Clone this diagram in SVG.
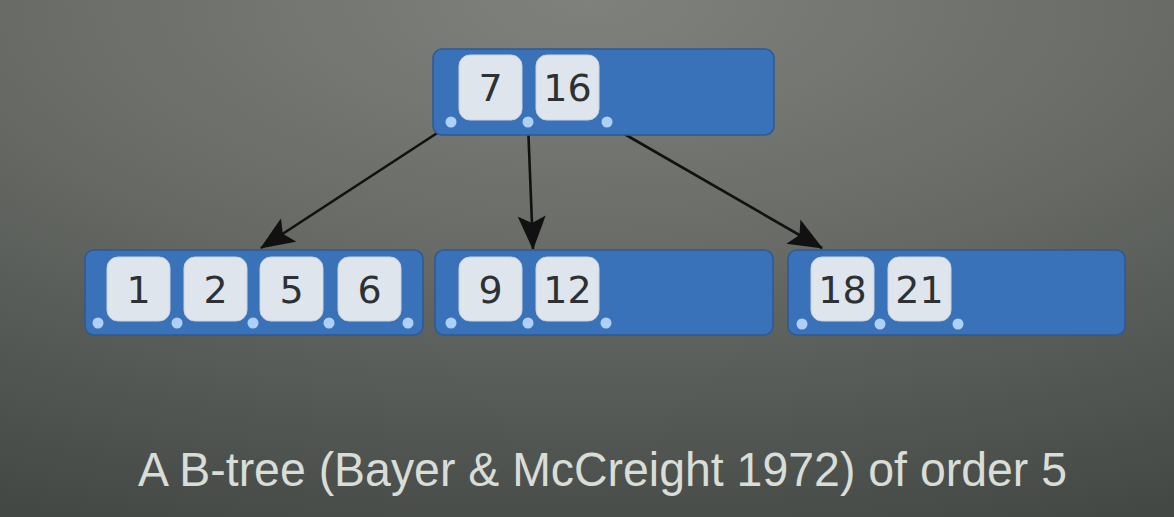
<svg xmlns="http://www.w3.org/2000/svg" width="1174" height="517" viewBox="0 0 1174 517">
  <defs>
    <radialGradient id="bg" cx="0.5" cy="0" r="1.1" fx="0.5" fy="0">
      <stop offset="0" stop-color="#7e817c"/>
      <stop offset="0.45" stop-color="#686b66"/>
      <stop offset="1" stop-color="#434845"/>
    </radialGradient>
    <marker id="arrow" viewBox="0 0 34 28" refX="33" refY="14" markerWidth="34" markerHeight="28" markerUnits="userSpaceOnUse" orient="auto">
      <path d="M0,0 L34,14 L0,28 L7,14 z" fill="#111"/>
    </marker>
    <style>
      .node { fill: #3a72ba; stroke: #2c5a94; stroke-width: 1.5; }
      .key { fill: #dfe5ec; stroke: #c9d3de; stroke-width: 1; }
      .num { font-family: "DejaVu Sans", sans-serif; font-size: 38px; fill: #2e3133; text-anchor: middle; }
      .dot { fill: #aed0f7; }
      .edge { stroke: #111; stroke-width: 2.6; fill: none; marker-end: url(#arrow); }
      .caption { font-family: "Liberation Sans", Arial, sans-serif; font-size: 49px; fill: #d9ddd8; }
    </style>
  </defs>
  <rect x="0" y="0" width="1174" height="517" fill="url(#bg)"/>

  <g id="connectors">
    <line class="edge" x1="451" y1="124" x2="261" y2="248"/>
    <line class="edge" x1="528" y1="124" x2="533" y2="249"/>
    <line class="edge" x1="607" y1="124" x2="822" y2="248"/>
  </g>

  <g id="root">
    <rect class="node" x="433" y="49" width="341" height="86" rx="9"/>
    <rect class="key" x="459" y="55" width="63" height="65" rx="11"/>
    <text class="num" x="490.5" y="101">7</text>
    <rect class="key" x="536" y="55" width="63" height="65" rx="11"/>
    <text class="num" x="567.5" y="101">16</text>
    <circle class="dot" cx="451" cy="122" r="5.5"/>
    <circle class="dot" cx="528" cy="122" r="5.5"/>
    <circle class="dot" cx="607" cy="122" r="5.5"/>
  </g>

  <g id="left">
    <rect class="node" x="85" y="250" width="338" height="85" rx="9"/>
    <rect class="key" x="107" y="257" width="63" height="64" rx="11"/>
    <text class="num" x="138.5" y="303">1</text>
    <rect class="key" x="184" y="257" width="63" height="64" rx="11"/>
    <text class="num" x="215.5" y="303">2</text>
    <rect class="key" x="260" y="257" width="63" height="64" rx="11"/>
    <text class="num" x="291.5" y="303">5</text>
    <rect class="key" x="338" y="257" width="63" height="64" rx="11"/>
    <text class="num" x="369.5" y="303">6</text>
    <circle class="dot" cx="98" cy="323" r="5.5"/>
    <circle class="dot" cx="177" cy="323" r="5.5"/>
    <circle class="dot" cx="253" cy="323" r="5.5"/>
    <circle class="dot" cx="329" cy="323" r="5.5"/>
    <circle class="dot" cx="408" cy="323" r="5.5"/>
  </g>

  <g id="middle">
    <rect class="node" x="435" y="250" width="338" height="85" rx="9"/>
    <rect class="key" x="459" y="257" width="63" height="64" rx="11"/>
    <text class="num" x="490.5" y="303">9</text>
    <rect class="key" x="536" y="257" width="63" height="64" rx="11"/>
    <text class="num" x="567.5" y="303">12</text>
    <circle class="dot" cx="451" cy="323" r="5.5"/>
    <circle class="dot" cx="528" cy="323" r="5.5"/>
    <circle class="dot" cx="606" cy="323" r="5.5"/>
  </g>

  <g id="right">
    <rect class="node" x="788" y="250" width="337" height="85" rx="9"/>
    <rect class="key" x="811" y="257" width="63" height="64" rx="11"/>
    <text class="num" x="842.5" y="303">18</text>
    <rect class="key" x="888" y="257" width="63" height="64" rx="11"/>
    <text class="num" x="919.5" y="303">21</text>
    <circle class="dot" cx="802" cy="324" r="5.5"/>
    <circle class="dot" cx="880" cy="324" r="5.5"/>
    <circle class="dot" cx="958" cy="324" r="5.5"/>
  </g>

  <text class="caption" x="138" y="486" textLength="929" lengthAdjust="spacingAndGlyphs">A B-tree (Bayer &amp; McCreight 1972) of order 5</text>
</svg>
